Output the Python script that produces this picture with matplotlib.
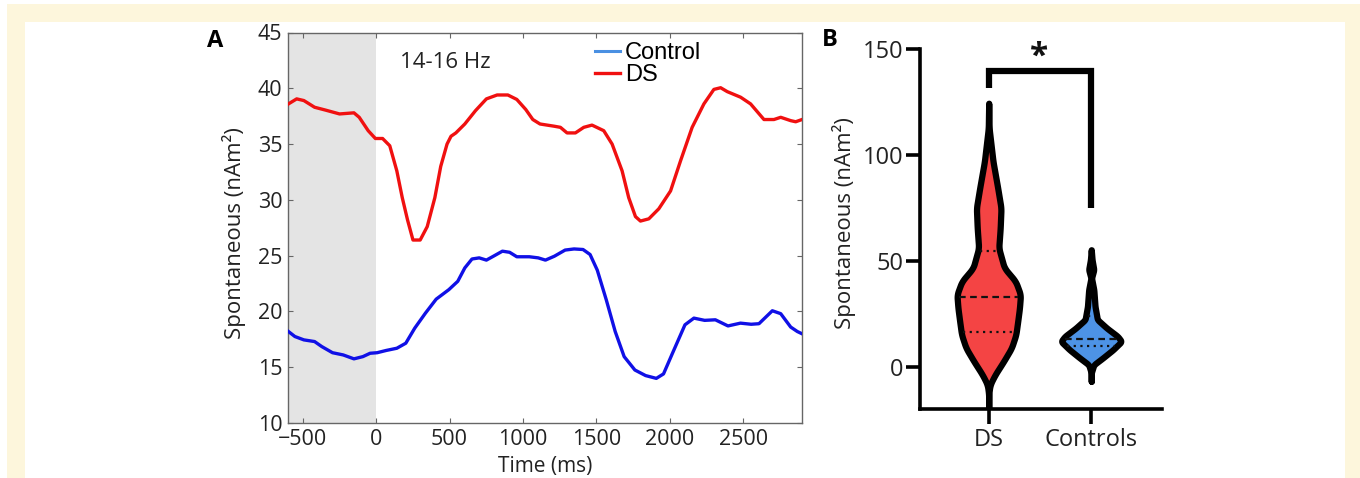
import numpy as np
import matplotlib
matplotlib.use('Agg')
import matplotlib.pyplot as plt
from matplotlib.patches import Rectangle
from matplotlib.lines import Line2D

plt.rcParams['font.family'] = ['Open Sans', 'DejaVu Sans']

# ---------------- Panel A data ----------------
ds_time = [-597, -541, -492, -419, -346, -249, -151, -115, -54, -5, 44, 93, 141, 178,
           214, 251, 300, 348, 400, 440, 483, 510, 543, 604, 677, 751, 824, 897, 958,
           1019, 1067, 1116, 1213, 1255, 1300, 1357, 1414, 1470, 1550, 1607, 1675,
           1720, 1766, 1800, 1857, 1925, 2005, 2073, 2152, 2232, 2300, 2346, 2391,
           2482, 2550, 2641, 2709, 2755, 2823, 2857, 2900]
ds_vals = [38.6, 39.05, 38.9, 38.3, 38.05, 37.7, 37.8, 37.4, 36.2, 35.5, 35.5, 34.85,
           32.6, 30.2, 28.2, 26.4, 26.4, 27.6, 30.2, 33.0, 35.0, 35.7, 36.0, 36.8,
           38.0, 39.05, 39.4, 39.4, 39.0, 38.1, 37.2, 36.8, 36.6, 36.5, 36.0, 36.0,
           36.5, 36.7, 36.2, 35.0, 32.6, 30.2, 28.5, 28.1, 28.3, 29.2, 30.8, 33.5,
           36.5, 38.6, 39.9, 40.05, 39.7, 39.2, 38.6, 37.2, 37.2, 37.4, 37.1, 37.0, 37.2]

ctrl_time = [-597, -553, -492, -419, -370, -297, -224, -151, -90, -41, 7, 68, 141, 202,
             263, 336, 409, 495, 556, 604, 653, 702, 751, 799, 860, 909, 958, 1043,
             1104, 1153, 1214, 1287, 1348, 1409, 1457, 1506, 1567, 1628, 1689, 1762,
             1835, 1908, 1957, 2018, 2103, 2164, 2237, 2310, 2396, 2481, 2554, 2607,
             2698, 2755, 2823, 2868, 2900]
ctrl_vals = [18.2, 17.75, 17.45, 17.3, 16.85, 16.3, 16.1, 15.75, 15.95, 16.25, 16.3,
             16.5, 16.7, 17.15, 18.5, 19.85, 21.1, 21.95, 22.7, 23.9, 24.7, 24.8, 24.6,
             24.95, 25.4, 25.3, 24.9, 24.9, 24.8, 24.6, 24.95, 25.5, 25.6, 25.55, 25.1,
             23.7, 21.05, 18.2, 15.95, 14.75, 14.25, 14.0, 14.4, 16.25, 18.8, 19.4,
             19.2, 19.25, 18.7, 18.95, 18.85, 18.9, 20.06, 19.8, 18.6, 18.2, 18.0]

a_xticks = [-500, 0, 500, 1000, 1500, 2000, 2500]
a_yticks = [10, 15, 20, 25, 30, 35, 40, 45]

# ---------------- Panel B data (violin outlines) ----------------
groups = ['DS', 'Controls']
ds_violin_y = [-19.5, -13.2, -8.5, -3.8, 2.5, 8.8, 15.1, 21.4, 27.7, 34.0, 40.3, 46.6,
               56.0, 65.4, 74.9, 84.3, 96.9, 112.6, 124.4]
ds_violin_w = [0.0, 0.0, 0.013, 0.062, 0.145, 0.222, 0.265, 0.283, 0.300, 0.310, 0.262,
               0.152, 0.098, 0.112, 0.120, 0.088, 0.042, 0.004, 0.0]
ctrl_violin_y = [-6.9, -3.0, 0.9, 4.1, 8.0, 11.9, 14.3, 18.2, 22.2, 28.4, 36.3, 41.8,
                 45.8, 50.5, 55.2]
ctrl_violin_w = [0.0, 0.0, 0.025, 0.112, 0.212, 0.295, 0.258, 0.152, 0.060, 0.037,
                 0.025, 0.003, 0.025, 0.008, 0.0]
ds_quartiles = [16.4, 32.7, 54.7]
ctrl_quartiles = [9.9, 13.1, 23.7]
b_yticks = [0, 50, 100, 150]
bracket_y = [131.5, 139.8, 139.8, 74.9]

W, H = 1360, 478
fig = plt.figure(figsize=(W / 100, H / 100), dpi=100)
fig.patch.set_facecolor('white')
cream = '#fdf6dc'
fig.patches.append(Rectangle((7 / W, 0), (W - 7) / W, (H - 4) / H, transform=fig.transFigure,
                             facecolor=cream, edgecolor='none', zorder=-10))
fig.patches.append(Rectangle((25 / W, 0), (1345 - 25) / W, (H - 22) / H, transform=fig.transFigure,
                             facecolor='white', edgecolor='none', zorder=-9))


def fx(px):
    return px / W


def fy(py):
    return 1 - py / H


# ---------------- Panel A ----------------
axA = fig.add_axes([fx(288), fy(423), (802 - 288) / W, (423 - 32.5) / H])
axA.axvspan(-600, 0, color='#e4e4e4', zorder=0, lw=0)
axA.plot(ds_time, ds_vals, color='#f01010', lw=2.4, zorder=3)
axA.plot(ctrl_time, ctrl_vals, color='#1010e6', lw=2.4, zorder=3)
axA.set_xlim(-600, 2900)
axA.set_ylim(10, 45)
axA.set_xticks(a_xticks)
axA.set_yticks(a_yticks)
axA.tick_params(direction='in', top=True, right=True, length=3.5, width=0.8,
                colors='#666666', labelcolor='#222222', labelsize=15.5)
axA.tick_params(axis='x', pad=4)
axA.tick_params(axis='y', pad=4)
for s in axA.spines.values():
    s.set_color('#666666')
    s.set_linewidth(1.0)
axA.set_xlabel('Time (ms)', fontsize=15, color='#222222')
axA.xaxis.set_label_coords(0.5, -0.085)
axA.set_ylabel('Spontaneous (nAm²)', fontsize=16, color='#222222')
axA.yaxis.set_label_coords(-0.082, 0.487)
axA.text(0.218, 0.922, '14-16 Hz', transform=axA.transAxes, fontsize=16,
         color='#222222', va='center', ha='left')
handles = [Line2D([], [], color='#4a90e2', lw=2.2), Line2D([], [], color='#f01010', lw=2.4)]
axA.legend(handles, ['Control', 'DS'], loc='upper left', bbox_to_anchor=(0.598, 0.975),
           frameon=False, prop={'family': 'Liberation Sans', 'size': 17},
           handlelength=1.05, handletextpad=0.2,
           labelspacing=0.0, borderpad=0, borderaxespad=0)
fig.text(fx(215), fy(41), 'A', fontsize=17, fontweight='bold', ha='center', va='center')

# ---------------- Panel B ----------------
axB = fig.add_axes([fx(920), fy(409), (1162 - 920) / W, (409 - 49) / H])
axB.set_xlim(-0.67, 1.69)
axB.set_ylim(-20, 150)


def smooth_profile(yv, wv):
    yy = np.linspace(yv[0], yv[-1], 400)
    ww = np.interp(yy, yv, wv)
    k = np.ones(11) / 11
    ww = np.convolve(np.pad(ww, 5, mode='edge'), k, mode='valid')
    return yy, ww


for c, (yv, wv, col, q) in enumerate([(ds_violin_y, ds_violin_w, '#f44444', ds_quartiles),
                                      (ctrl_violin_y, ctrl_violin_w, '#4d93e6', ctrl_quartiles)]):
    yy, ww = smooth_profile(yv, wv)
    axB.fill_betweenx(yy, c - ww, c + ww, facecolor=col, edgecolor='black',
                      linewidth=4.5, zorder=2, joinstyle='round')
    for i, qv in enumerate(q):
        hw = np.interp(qv, yy, ww) - 0.02
        if hw <= 0:
            hw = 0.006
        axB.plot([c - hw, c + hw], [qv, qv], color='#111111', lw=1.6,
                 ls=(0, (3, 2)) if i == 1 else (0, (1, 2)), zorder=3)

axB.plot([0, 0, 1, 1], bracket_y, color='black', lw=4.5, clip_on=False,
         solid_joinstyle='miter', solid_capstyle='butt', zorder=4)
axB.text(0.49, 146, '*', fontsize=24, fontweight='bold', ha='center', va='center',
         color='#111111')

axB.spines['top'].set_visible(False)
axB.spines['right'].set_visible(False)
for s in ['left', 'bottom']:
    axB.spines[s].set_linewidth(2.6)
    axB.spines[s].set_capstyle('projecting')
axB.set_yticks(b_yticks)
axB.set_xticks([0, 1])
axB.set_xticklabels(groups)
axB.tick_params(axis='y', direction='out', length=10, width=2.6, labelsize=17, pad=2,
                labelcolor='#222222')
axB.tick_params(axis='x', direction='out', length=11, width=2.6, labelsize=17, pad=3,
                labelcolor='#222222')
axB.set_ylabel('Spontaneous (nAm²)', fontsize=16, color='#222222')
axB.yaxis.set_label_coords(-0.265, 0.517)
fig.text(fx(830), fy(40), 'B', fontsize=17, fontweight='bold', ha='center', va='center')

fig.savefig('out.png', dpi=100, facecolor=fig.get_facecolor())
